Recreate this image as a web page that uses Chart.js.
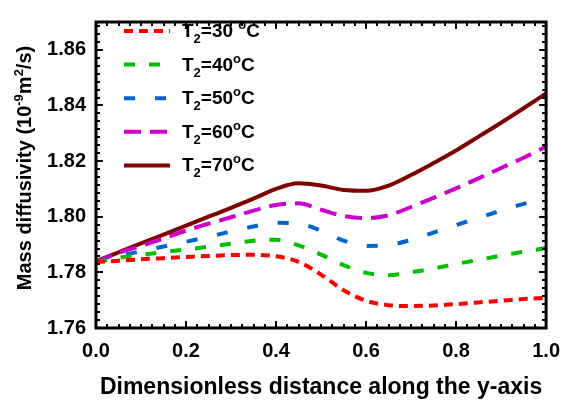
<!DOCTYPE html>
<html>
<head>
<meta charset="utf-8">
<script src="https://cdn.jsdelivr.net/npm/chart.js@4.4.0/dist/chart.umd.min.js"></script>
<style>
  html, body { margin: 0; padding: 0; background: #ffffff; }
  #wrap { position: relative; width: 571px; height: 405px; }
</style>
</head>
<body>
<div id="wrap"><canvas id="c" width="571" height="405"></canvas></div>
<script>
// ---- data ----
const xValues = [0, 0.05, 0.1, 0.15, 0.2, 0.25, 0.3, 0.35, 0.4, 0.45, 0.5, 0.55, 0.6, 0.65, 0.7, 0.75, 0.8, 0.85, 0.9, 0.95, 1.0];
const t30 = [1.7837, 1.7842, 1.7847, 1.7851, 1.7855, 1.7859, 1.7862, 1.7863, 1.7858, 1.7838, 1.7792, 1.7736, 1.7698, 1.7682, 1.7679, 1.7681, 1.7686, 1.7692, 1.7698, 1.7704, 1.7708];
const t40 = [1.7837, 1.7852, 1.7863, 1.7873, 1.7882, 1.7892, 1.7903, 1.7914, 1.7917, 1.7897, 1.7864, 1.7826, 1.7798, 1.7790, 1.7800, 1.7814, 1.7830, 1.7845, 1.7860, 1.7874, 1.7888];
const t50 = [1.7837, 1.7858, 1.7876, 1.7893, 1.7910, 1.7928, 1.7947, 1.7965, 1.7978, 1.7975, 1.7950, 1.7914, 1.7895, 1.7898, 1.7917, 1.7943, 1.7970, 1.7996, 1.8022, 1.8046, 1.8066];
const t60 = [1.7837, 1.7870, 1.7895, 1.7922, 1.7950, 1.7975, 1.7998, 1.8022, 1.8042, 1.8048, 1.8025, 1.8003, 1.7995, 1.8005, 1.8035, 1.8068, 1.8102, 1.8138, 1.8175, 1.8212, 1.8252];
const t70 = [1.7840, 1.7872, 1.7904, 1.7936, 1.7968, 1.8000, 1.8032, 1.8065, 1.8100, 1.8120, 1.8112, 1.8096, 1.8093, 1.8112, 1.8150, 1.8193, 1.8238, 1.8288, 1.8338, 1.8390, 1.8443];
const seriesTemps = ['30 ', '40', '50', '60', '70'];
const xTicks = [0.0, 0.2, 0.4, 0.6, 0.8, 1.0];
const yTicks = [1.76, 1.78, 1.80, 1.82, 1.84, 1.86];
const xTitle = 'Dimensionless distance along the y-axis';
const yTitleParts = ['Mass diffusivity (10', '-9', 'm', '2', '/s)'];

const seriesValues = [t30, t40, t50, t60, t70];
const colors = ['#ff0000', '#00bf00', '#0066cc', '#cc00cc', '#800000'];
const dashes = [[9, 6], [11, 14], [11, 20], [17, 9], []];

const FONT = '"Liberation Sans", Arial, sans-serif';

const datasets = seriesValues.map((vals, i) => ({
  label: 'T\u2082=' + seriesTemps[i] + '\u00B0C',
  data: xValues.map((x, k) => ({ x: x, y: vals[k] })),
  borderColor: colors[i],
  backgroundColor: colors[i],
  borderWidth: 4,
  borderDash: dashes[i],
  pointRadius: 0,
  cubicInterpolationMode: 'monotone',
  fill: false
}));

const framePlugin = {
  id: 'frame',
  afterDatasetsDraw(chart) {
    const ctx = chart.ctx;
    const a = chart.chartArea;
    const xs = chart.scales.x, ys = chart.scales.y;
    ctx.save();
    ctx.strokeStyle = '#000';
    ctx.lineWidth = 2;
    const xMinorStep = 0.025, yMinorStep = 0.02 / 7;
    for (let v = xs.min; v <= xs.max + 1e-9; v += xMinorStep) {
      const isMajor = Math.abs(v / 0.2 - Math.round(v / 0.2)) < 1e-6;
      const len = isMajor ? 7 : 4;
      const px = Math.round(xs.getPixelForValue(v));
      ctx.beginPath();
      ctx.moveTo(px, a.bottom); ctx.lineTo(px, a.bottom - len);
      ctx.moveTo(px, a.top); ctx.lineTo(px, a.top + len);
      ctx.stroke();
    }
    for (let k = 0; ; k++) {
      const v = ys.min + k * yMinorStep;
      if (v > ys.max + 1e-9) break;
      const isMajor = k % 7 === 0;
      const len = isMajor ? 7 : 4;
      const py = Math.round(ys.getPixelForValue(v));
      ctx.beginPath();
      ctx.moveTo(a.left, py); ctx.lineTo(a.left + len, py);
      ctx.moveTo(a.right, py); ctx.lineTo(a.right - len, py);
      ctx.stroke();
    }
    ctx.lineWidth = 3;
    ctx.strokeRect(a.left, a.top, a.right - a.left, a.bottom - a.top);
    ctx.restore();
  },
  afterDraw(chart) {
    const ctx = chart.ctx;
    ctx.save();
    const sets = chart.data.datasets;
    sets.forEach((ds, i) => {
      const y = 31 + i * 33.6;
      ctx.strokeStyle = ds.borderColor;
      ctx.lineWidth = ds.borderWidth;
      ctx.setLineDash(ds.borderDash);
      ctx.beginPath();
      ctx.moveTo(124, y); ctx.lineTo(170, y);
      ctx.stroke();
      ctx.setLineDash([]);
      ctx.fillStyle = '#000';
      ctx.textBaseline = 'alphabetic';
      ctx.textAlign = 'left';
      let x = 182;
      const base = y + 6;
      const big = 'bold 19px ' + FONT, small = 'bold 13px ' + FONT;
      ctx.font = big; ctx.fillText('T', x, base); x += ctx.measureText('T').width;
      ctx.font = small; ctx.fillText('2', x, base + 6); x += ctx.measureText('2').width;
      ctx.font = big; const mid = '=' + seriesTemps[i]; ctx.fillText(mid, x, base); x += ctx.measureText(mid).width;
      ctx.font = small; ctx.fillText('o', x, base - 8); x += ctx.measureText('o').width;
      ctx.font = big; ctx.fillText('C', x, base);
    });
    ctx.translate(31, 168);
    ctx.rotate(-Math.PI / 2);
    const big = 'bold 20px ' + FONT, small = 'bold 13px ' + FONT;
    const parts = yTitleParts.map((t, k) => ({ t, sup: k % 2 === 1 }));
    let total = 0;
    parts.forEach(p => { ctx.font = p.sup ? small : big; p.w = ctx.measureText(p.t).width; total += p.w; });
    let x = -total / 2;
    ctx.fillStyle = '#000';
    ctx.textBaseline = 'alphabetic';
    parts.forEach(p => {
      ctx.font = p.sup ? small : big;
      ctx.fillText(p.t, x, p.sup ? -8 : 0);
      x += p.w;
    });
    ctx.restore();
  }
};

new Chart(document.getElementById('c'), {
  type: 'line',
  data: { datasets },
  options: {
    responsive: false,
    animation: false,
    devicePixelRatio: 1,
    layout: { padding: { top: 6, right: 16, left: 0, bottom: 0 } },
    plugins: { legend: { display: false }, tooltip: { enabled: false } },
    scales: {
      x: {
        type: 'linear', min: 0, max: 1,
        afterBuildTicks: (s) => { s.ticks = xTicks.map(v => ({ value: v })); },
        afterFit: (s) => { s.height = 77; },
        grid: { display: false, drawTicks: false },
        border: { display: false },
        ticks: { color: '#000', font: { family: FONT, size: 20, weight: 'bold' }, padding: 11, maxRotation: 0,
                 callback: (v) => Number(v).toFixed(1) },
        title: { display: true, text: xTitle, color: '#000', font: { family: FONT, size: 23, weight: 'bold' }, padding: { top: 0, bottom: 4 } }
      },
      y: {
        type: 'linear', min: 1.76, max: 1.87,
        afterBuildTicks: (s) => { s.ticks = yTicks.map(v => ({ value: v })); },
        afterFit: (s) => { s.width = 96; },
        grid: { display: false, drawTicks: false },
        border: { display: false },
        ticks: { color: '#000', font: { family: FONT, size: 20, weight: 'bold' }, padding: 10,
                 callback: (v) => Number(v).toFixed(2) }
      }
    }
  },
  plugins: [framePlugin]
});
</script>
</body>
</html>
